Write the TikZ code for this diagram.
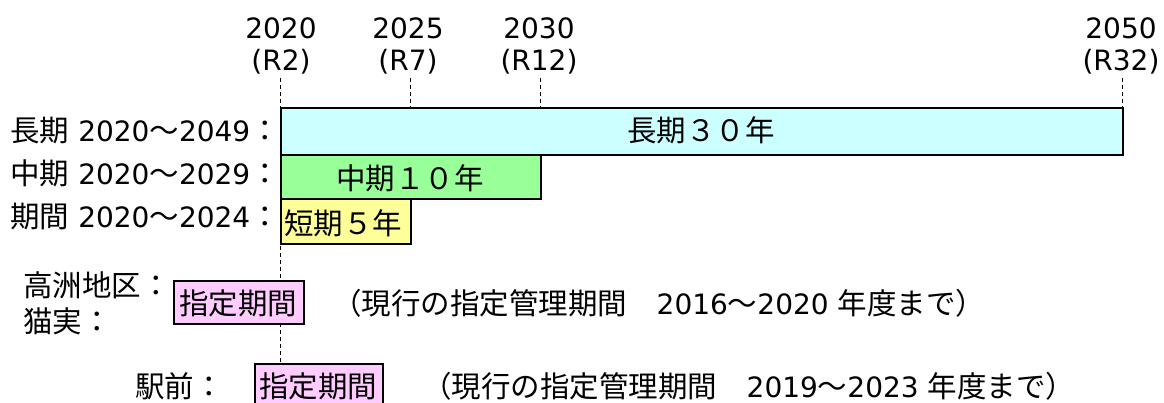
\documentclass[tikz,border=0pt]{standalone}
\usepackage{fontspec}
\setmainfont{DejaVu Sans}
\newfontfamily\jpfam{Noto Sans CJK JP}
\newcommand\J{\jpfam\fontsize{29.5}{32}\selectfont}
\definecolor{barcyan}{RGB}{204,255,255}
\definecolor{bargreen}{RGB}{153,255,153}
\definecolor{baryellow}{RGB}{255,255,153}
\definecolor{barpink}{RGB}{255,204,255}
\pgfdeclarelayer{bg}
\pgfsetlayers{bg,main}
\tikzset{
  txt/.style={font=\fontsize{28}{32}\selectfont, inner sep=0pt, text=black},
  barbox/.style={draw=black, line width=2pt, rectangle, inner sep=0pt, anchor=north west},
  guide/.style={draw=black, line width=1pt, dash pattern=on 4pt off 3pt}
}
\begin{document}
\begin{tikzpicture}[x=1pt,y=-1pt]
\useasboundingbox (0,0) rectangle (1164,403);

% year labels
\node[txt,anchor=base] (y20) at (281,39) {2020};
\node[txt,anchor=base] (r2) at (281,71) {(R2)};
\node[txt,anchor=base] (y25) at (408,39) {2025};
\node[txt,anchor=base] (r7) at (408,71) {(R7)};
\node[txt,anchor=base] (y30) at (539,39) {2030};
\node[txt,anchor=base] (r12) at (539,71) {(R12)};
\node[txt,anchor=base] (y50) at (1121,39) {2050};
\node[txt,anchor=base] (r32) at (1121,71) {(R32)};

% bars
\node[barbox, fill=barcyan, minimum width=842pt, minimum height=47pt] (long) at (280,107) {};
\node[barbox, fill=bargreen, minimum width=260pt, minimum height=44pt] (mid) at (280,154) {};
\node[barbox, fill=baryellow, minimum width=130pt, minimum height=45pt] (short) at (280,198) {};

\node[txt,anchor=base] (longt) at (701,142) {\J 長期３０年};
\node[txt,anchor=base] (midt) at (410,190) {\J 中期１０年};
\node[txt,anchor=base west] (shortt) at (284,235) {\J 短期５年};

% row labels
\node[txt,anchor=base east] (l1) at (280,142) {{\J 長期} 2020{\J ～}2049{\J ：}};
\node[txt,anchor=base east] (l2) at (280,185) {{\J 中期} 2020{\J ～}2029{\J ：}};
\node[txt,anchor=base east] (l3) at (280,228) {{\J 期間} 2020{\J ～}2024{\J ：}};

% lower part
\node[txt,anchor=base west] (takasu) at (23,296) {\J 高洲地区：};
\node[txt,anchor=base west] (nekozane) at (23,332) {\J 猫実：};
\node[txt,anchor=base west] (ekimae) at (135,397) {\J 駅前：};

\node[barbox, fill=barpink, minimum width=130pt, minimum height=43pt] (p1) at (173,280) {};
\node[txt,anchor=base] (p1t) at (238,314) {\J 指定期間};
\node[barbox, fill=barpink, minimum width=128pt, minimum height=45pt] (p2) at (254,363) {};
\node[txt,anchor=base] (p2t) at (318,397) {\J 指定期間};

\node[txt,anchor=base west] (cur1) at (332,314) {{\J （現行の指定管理期間　}2016{\J ～}2020 {\J 年度まで）}};
\node[txt,anchor=base west] (cur2) at (422,397) {{\J （現行の指定管理期間　}2019{\J ～}2023 {\J 年度まで）}};

% guide lines
\coordinate (g20t) at (280,78);
\coordinate (g20b) at (280,403);
\coordinate (g25t) at (410,78);
\coordinate (g30t) at (540,78);
\coordinate (g50t) at (1122,78);
\begin{pgfonlayer}{bg}
\draw[guide] (g20t) -- (g20b);
\draw[guide] (g25t) -- (g25t |- long.north);
\draw[guide] (g30t) -- (g30t |- long.north);
\draw[guide] (g50t) -- (g50t |- long.north);
\end{pgfonlayer}
\end{tikzpicture}
\end{document}
